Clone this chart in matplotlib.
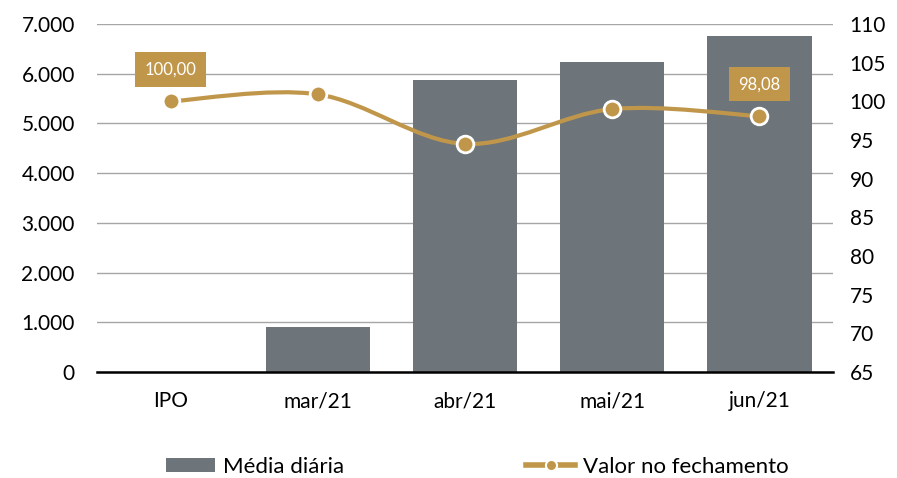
import matplotlib.pyplot as plt
import numpy as np
from matplotlib.path import Path
from matplotlib.patches import PathPatch
from matplotlib.lines import Line2D
from matplotlib.patches import Patch

categories = ["IPO", "mar/21", "abr/21", "mai/21", "jun/21"]
media_diaria = [0, 910, 5880, 6240, 6760]
valor_fechamento = [100.00, 100.9, 94.5, 99.0, 98.08]
left_ticks = [0, 1000, 2000, 3000, 4000, 5000, 6000, 7000]
right_ticks = [65, 70, 75, 80, 85, 90, 95, 100, 105, 110]

BAR_COLOR = "#6d747a"
GOLD = "#c0974a"

plt.rcParams["font.family"] = ["Lato", "DejaVu Sans"]

fig = plt.figure(figsize=(8.97, 4.78), dpi=100)
ax = fig.add_axes([97 / 897, 1 - 372 / 478, (833 - 97) / 897, (372 - 24) / 478])
ax2 = ax.twinx()

x = np.arange(len(categories))
ax.bar(x, media_diaria, width=0.71, color=BAR_COLOR, zorder=2)
ax.set_xlim(-0.5, len(categories) - 0.5)
ax.set_ylim(0, 7000)
ax.set_yticks(left_ticks)
ax.set_yticklabels([f"{v:,}".replace(",", ".") for v in left_ticks])
ax.set_xticks(x)
ax.set_xticklabels(categories)
ax.yaxis.grid(True, color="#a6a6a6", linewidth=1)
ax.set_axisbelow(True)
for s in ["top", "right", "left"]:
    ax.spines[s].set_visible(False)
ax.spines["bottom"].set_linewidth(1.8)
ax.spines["bottom"].set_color("black")
ax.spines["bottom"].set_zorder(5)
ax.tick_params(axis="both", length=0, labelsize=15, colors="black")
ax.tick_params(axis="x", pad=14)
ax.tick_params(axis="y", pad=16)

ax2.set_ylim(65, 110)
ax2.set_yticks(right_ticks)
ax2.tick_params(axis="y", length=0, labelsize=15, pad=12)
for s in ax2.spines.values():
    s.set_visible(False)

# smoothed line (bezier through the points)
pts = np.column_stack([x, valor_fechamento]).astype(float)
verts = [tuple(pts[0])]
codes = [Path.MOVETO]
t = 1 / 6
for i in range(len(pts) - 1):
    p0 = pts[max(i - 1, 0)]
    p1 = pts[i]
    p2 = pts[i + 1]
    p3 = pts[min(i + 2, len(pts) - 1)]
    c1 = p1 + (p2 - p0) * t
    c2 = p2 - (p3 - p1) * t
    verts += [tuple(c1), tuple(c2), tuple(p2)]
    codes += [Path.CURVE4] * 3
ax2.add_patch(PathPatch(Path(verts, codes), facecolor="none", edgecolor=GOLD, linewidth=3, zorder=3))
ax2.plot(x, valor_fechamento, linestyle="none", marker="o", markersize=12,
         markerfacecolor=GOLD, markeredgecolor="white", markeredgewidth=2, zorder=4)

for i in [0, len(categories) - 1]:
    ax2.annotate(f"{valor_fechamento[i]:.2f}".replace(".", ","), (x[i], valor_fechamento[i]),
                 xytext=(0, 23), textcoords="offset points", ha="center", va="center",
                 fontsize=12, color="white",
                 bbox=dict(boxstyle="square,pad=0.55", facecolor=GOLD, edgecolor="none"), zorder=6)

handles = [Patch(facecolor=BAR_COLOR, label="Média diária"),
           Line2D([0], [0], color=GOLD, linewidth=4, marker="o", markersize=8,
                  markerfacecolor=GOLD, markeredgecolor="white", markeredgewidth=1.5,
                  label="Valor no fechamento")]
fig.legend(handles=handles, loc="center", bbox_to_anchor=(0.532, 0.024), ncol=2, frameon=False,
           fontsize=16, columnspacing=8.2, handlelength=2.2, handleheight=0.6, handletextpad=0.35)

fig.savefig("out.png", dpi=100)
